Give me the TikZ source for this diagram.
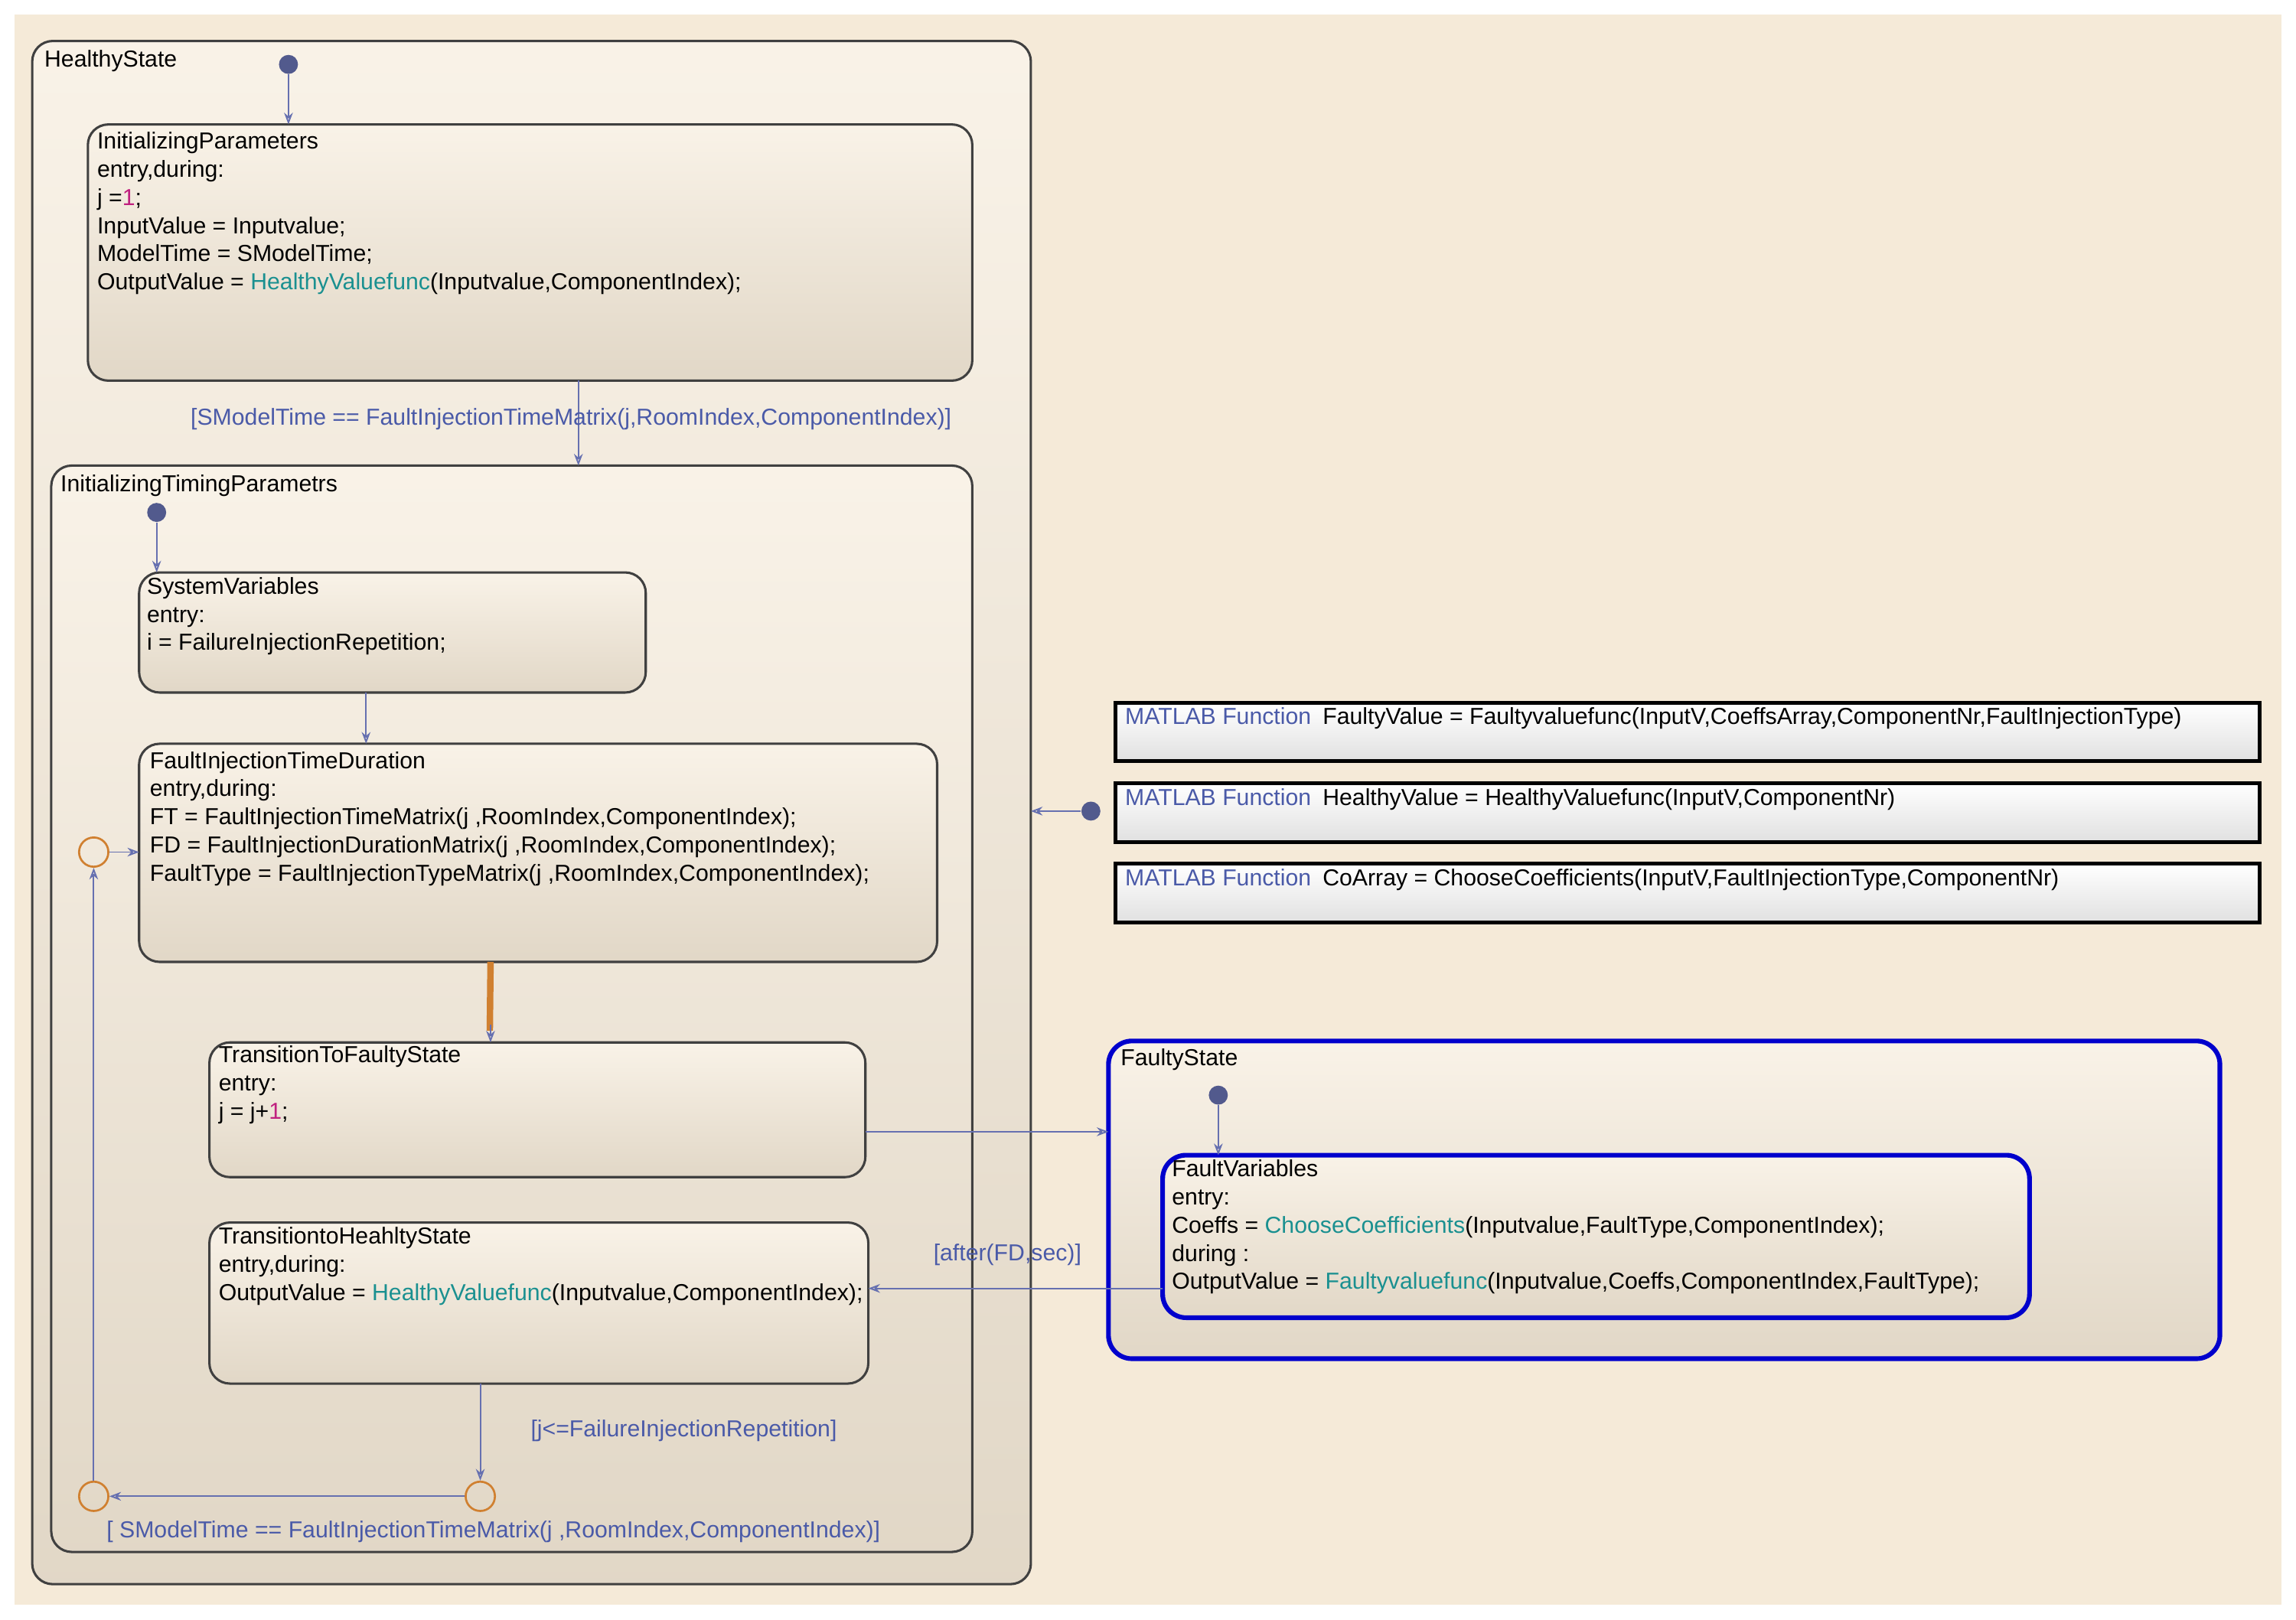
\documentclass[tikz,border=0pt]{standalone}
\usepackage{fontspec}
\setmainfont{Liberation Sans}
\usetikzlibrary{arrows.meta}
\definecolor{bg}{HTML}{F5EAD8}
\definecolor{lbl}{HTML}{4A5AA8}
\definecolor{fn}{HTML}{1A9090}
\definecolor{num}{HTML}{C0207F}
\definecolor{org}{HTML}{D08030}
\definecolor{tr}{HTML}{6670B0}
\begin{document}
\begin{tikzpicture}[x=0.5pt,y=-0.5pt,
  st/.style={draw=black!75,line width=0.8pt,rounded corners=7pt,top color=bg!60!white,bottom color=bg!92!black},
  fst/.style={draw=blue!80!black,line width=1.6pt,rounded corners=8pt,top color=bg!60!white,bottom color=bg!92!black},
  txt/.style={anchor=north west,align=left,inner sep=0pt,font=\fontsize{7.9}{9.6}\selectfont},
  lab/.style={inner sep=0pt,text=lbl,font=\fontsize{7.9}{9}\selectfont},
  tra/.style={draw=tr,line width=0.5pt,-{Stealth[open,length=4pt,width=3pt]}},
  dot/.style={circle,fill=tr!80!black,inner sep=0pt,minimum size=6.5pt},
  jn/.style={circle,draw=org,line width=0.7pt,inner sep=0pt,minimum size=10pt},
  mf/.style={draw=black,line width=1.3pt,top color=white,bottom color=black!12}]
\useasboundingbox (0,0) rectangle (1568,1106);
\fill[white] (0,0) rectangle (1568,1106);
\fill[bg] (10,10) rectangle (1558,1096);
% HealthyState
\draw[st] (22,28) rectangle (704,1082);
\node[txt] (hsl) at (30,34) {HealthyState};
\draw[st] (60,85) rectangle (664,260);
\node[txt] (ip) at (66,90) {InitializingParameters\\entry,during:\\j =\textcolor{num}{1};\\InputValue = Inputvalue;\\ModelTime = SModelTime;\\OutputValue = \textcolor{fn}{HealthyValuefunc}(Inputvalue,ComponentIndex);};
\draw[st] (35,318) rectangle (664,1060);
\node[txt] (itp) at (41,324) {InitializingTimingParametrs};
\draw[st] (95,391) rectangle (441,473);
\node[txt] (sv) at (100,394) {SystemVariables\\entry:\\i = FailureInjectionRepetition;};
\draw[st] (95,508) rectangle (640,657);
\node[txt] (fitd) at (102,513) {FaultInjectionTimeDuration\\entry,during:\\FT = FaultInjectionTimeMatrix(j ,RoomIndex,ComponentIndex);\\FD = FaultInjectionDurationMatrix(j ,RoomIndex,ComponentIndex);\\FaultType = FaultInjectionTypeMatrix(j ,RoomIndex,ComponentIndex);};
\draw[st] (143,712) rectangle (591,804);
\node[txt] (tfs) at (149,714) {TransitionToFaultyState\\entry:\\j = j+\textcolor{num}{1};};
\draw[st] (143,835) rectangle (593,945);
\node[txt] (ths) at (149,838) {TransitiontoHeahltyState\\entry,during:\\OutputValue = \textcolor{fn}{HealthyValuefunc}(Inputvalue,ComponentIndex);};
% Faulty
\draw[fst] (757,711) rectangle (1516,928);
\node[txt] (fsl) at (765,716) {FaultyState};
\draw[fst] (794,789) rectangle (1386,900);
\node[txt] (fv) at (800,792) {FaultVariables\\entry:\\Coeffs = \textcolor{fn}{ChooseCoefficients}(Inputvalue,FaultType,ComponentIndex);\\during :\\OutputValue = \textcolor{fn}{Faultyvaluefunc}(Inputvalue,Coeffs,ComponentIndex,FaultType);};
% MATLAB functions
\draw[mf] (762,480) rectangle (1543,520);
\node[txt] (m1) at (768,483) {\textcolor{lbl}{MATLAB Function}\enspace FaultyValue = Faultyvaluefunc(InputV,CoeffsArray,ComponentNr,FaultInjectionType)};
\draw[mf] (762,535) rectangle (1543,575);
\node[txt] (m2) at (768,538) {\textcolor{lbl}{MATLAB Function}\enspace HealthyValue = HealthyValuefunc(InputV,ComponentNr)};
\draw[mf] (762,590) rectangle (1543,630);
\node[txt] (m3) at (768,593) {\textcolor{lbl}{MATLAB Function}\enspace CoArray = ChooseCoefficients(InputV,FaultInjectionType,ComponentNr)};
% default transitions
\node[dot] (d1) at (197,44) {};
\coordinate (d1e) at (197,85);
\draw[tra] (d1) -- (d1e);
\node[dot] (d2) at (107,350) {};
\coordinate (d2e) at (107,391);
\draw[tra] (d2) -- (d2e);
\node[dot] (d3) at (832,748) {};
\coordinate (d3e) at (832,789);
\draw[tra] (d3) -- (d3e);
\node[dot] (d4) at (745,554) {};
\coordinate (d4e) at (704,554);
\draw[tra] (d4) -- (d4e);
% transitions
\coordinate (a1) at (395,260); \coordinate (a2) at (395,318);
\draw[tra] (a1) -- (a2);
\node[lab] (l1) at (390,286) {[SModelTime == FaultInjectionTimeMatrix(j,RoomIndex,ComponentIndex)]};
\coordinate (b1) at (250,473); \coordinate (b2) at (250,508);
\draw[tra] (b1) -- (b2);
\coordinate (c1) at (335,657); \coordinate (c2) at (335,712);
\draw[draw=org,line width=2.2pt] (c1) -- (334.5,704);
\draw[draw=tr,line width=0.5pt,-{Stealth[open,length=4pt,width=3pt]}] (335,700) -- (c2);
\coordinate (e1) at (591,773); \coordinate (e2) at (757,773);
\draw[tra] (e1) -- (e2);
\coordinate (f1) at (794,880); \coordinate (f2) at (593,880);
\draw[tra] (f1) -- (f2);
\node[lab] (l2) at (688,857) {[after(FD,sec)]};
\node[jn] (j1) at (328,1022) {};
\node[jn] (j2) at (64,1022) {};
\node[jn] (j3) at (64,582) {};
\coordinate (g1) at (328,945);
\draw[tra] (g1) -- (j1);
\node[lab] (l3) at (467,977) {[j<=FailureInjectionRepetition]};
\draw[tra] (j1) -- (j2);
\node[lab] (l4) at (337,1046) {[ SModelTime == FaultInjectionTimeMatrix(j ,RoomIndex,ComponentIndex)]};
\draw[tra] (j2) -- (j3);
\coordinate (h2) at (95,582);
\draw[tra] (j3) -- (h2);
\end{tikzpicture}
\end{document}
